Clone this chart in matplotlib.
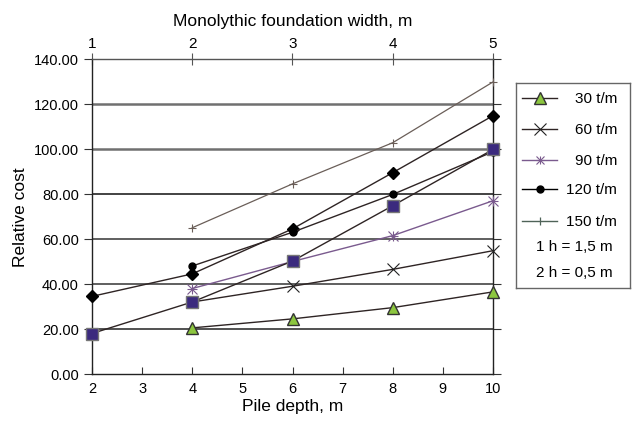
import matplotlib

matplotlib.use("Agg")
import matplotlib.pyplot as plt
from matplotlib.lines import Line2D

plt.rcParams["font.family"] = ["Liberation Sans", "DejaVu Sans"]

# pile depth, m
depth = [2, 4, 6, 8, 10]
depth4 = [4, 6, 8, 10]

s30 = [20.5, 24.5, 29.5, 36.5]
s60 = [32.0, 39.0, 46.5, 54.8]
s90 = [38.0, 50.0, 61.5, 77.0]
s120 = [48.0, 63.0, 79.8, 98.8]
s150 = [65.0, 84.5, 102.8, 129.8]
h1 = [34.5, 44.5, 64.5, 89.5, 114.8]   # diamonds
h2 = [18.0, 32.0, 50.2, 74.8, 99.8]    # squares

yticks = [0, 20, 40, 60, 80, 100, 120, 140]
grid_vals = [20, 40, 60, 80, 100, 120]
grid_cols = ["#333333", "#444444", "#444444", "#222222", "#707070", "#707070"]
grid_lw = [1.2, 1.2, 1.2, 1.2, 1.8, 1.8]

legend_labels = ["30 t/m", "60 t/m", "90 t/m", "120 t/m", "150 t/m"]
legend_notes = ["1 h = 1,5 m", "2 h = 0,5 m"]

fig = plt.figure(figsize=(6.34, 4.27), dpi=100)
ax = fig.add_axes([92 / 634, 1 - 375 / 427, 401 / 634, 315 / 427])

for v, c, lw in zip(grid_vals, grid_cols, grid_lw):
    ax.axhline(v, color=c, lw=lw, zorder=1)

line_col = "#2e2424"
kw = dict(clip_on=False)
ax.plot(depth4, s150, color="#6a5e58", lw=0.9, marker="+", ms=6, mew=0.8, zorder=3, **kw)
ax.plot(depth, h1, color=line_col, lw=1.0, marker="D", ms=6, mfc="black", mec="black", zorder=4, **kw)
ax.plot(depth4, s120, color=line_col, lw=1.0, marker="o", ms=5, mfc="black", mec="black", zorder=4, **kw)
ax.plot(depth4, s90, color="#7a5a8e", lw=1.0, marker="x", ms=7, mew=0.8, mec="#7a5a8e", zorder=3, **kw)
ax.plot(depth4, s90, ls="none", marker="+", ms=7, mew=0.8, mec="#7a5a8e", zorder=3, **kw)
ax.plot(depth4, s60, color=line_col, lw=1.0, marker="x", ms=9, mew=0.8, mec="#222222", zorder=3, **kw)
ax.plot(depth, h2, color=line_col, lw=1.0, marker="s", ms=8, mfc="#3b2a7e", mec="#777777", zorder=5, **kw)
ax.plot(depth4, s30, color=line_col, lw=1.0, marker="^", ms=9, mfc="#8cc63f", mec="#333333", zorder=5, **kw)

ax.set_xlim(2, 10)
ax.set_ylim(0, 140)
ax.set_xticks(range(2, 11))
ax.set_yticks(yticks)
ax.set_yticklabels([f"{v:.2f}" for v in yticks])
ax.tick_params(axis="x", direction="in", length=5, labelsize=10.5, pad=5, color="#333333")
ax.tick_params(axis="y", direction="out", length=6, right=True, labelsize=10.5, color="#333333")
for sp in ax.spines.values():
    sp.set_color("#222222")
    sp.set_linewidth(1.0)
ax.spines["top"].set_color("#555555")

ax.set_xlabel("Pile depth, m", fontsize=12.5, labelpad=2)
ax.set_ylabel("Relative cost", fontsize=12.5, labelpad=4)

top = ax.secondary_xaxis("top", functions=(lambda x: x / 2, lambda x: x * 2))
top.set_xticks([1, 2, 3, 4, 5])
top.tick_params(direction="inout", length=9, labelsize=11, pad=2, color="#555555")
top.spines["top"].set_visible(False)
top.set_xlabel("Monolythic foundation width, m", fontsize=12.5, labelpad=8)

# legend box
lax = fig.add_axes([516 / 634, 1 - 289 / 427, 114 / 634, 205 / 427])
lax.set_xlim(0, 114)
lax.set_ylim(205, 0)
lax.set_xticks([])
lax.set_yticks([])
for sp in lax.spines.values():
    sp.set_color("#666666")
    sp.set_linewidth(1.0)

rows = [15, 46, 77, 106, 138]
styles = [
    dict(color=line_col, marker="^", ms=9, mfc="#8cc63f", mec="#333333"),
    dict(color=line_col, marker="x", ms=9, mew=0.8, mec="#222222"),
    dict(color="#7a5a8e", marker="x", ms=6, mew=0.8, mec="#7a5a8e"),
    dict(color="black", marker="o", ms=5, mfc="black", mec="black"),
    dict(color="#4f6358", marker="|", ms=6, mew=0.9),
]
for y, lab, st in zip(rows, legend_labels, styles):
    lax.add_line(Line2D([6, 23.5, 41], [y, y, y], lw=1.0, markevery=[1], **st))
    lax.text(101, y, lab, ha="right", va="center", fontsize=11)
# asterisk for 90 t/m
lax.plot([23.5], [rows[2]], ls="none", marker="+", ms=6, mew=0.8, mec="#7a5a8e")
for y, note in zip([163, 189], legend_notes):
    lax.text(58, y, note, ha="center", va="center", fontsize=11)

fig.savefig("out.png", dpi=100)
